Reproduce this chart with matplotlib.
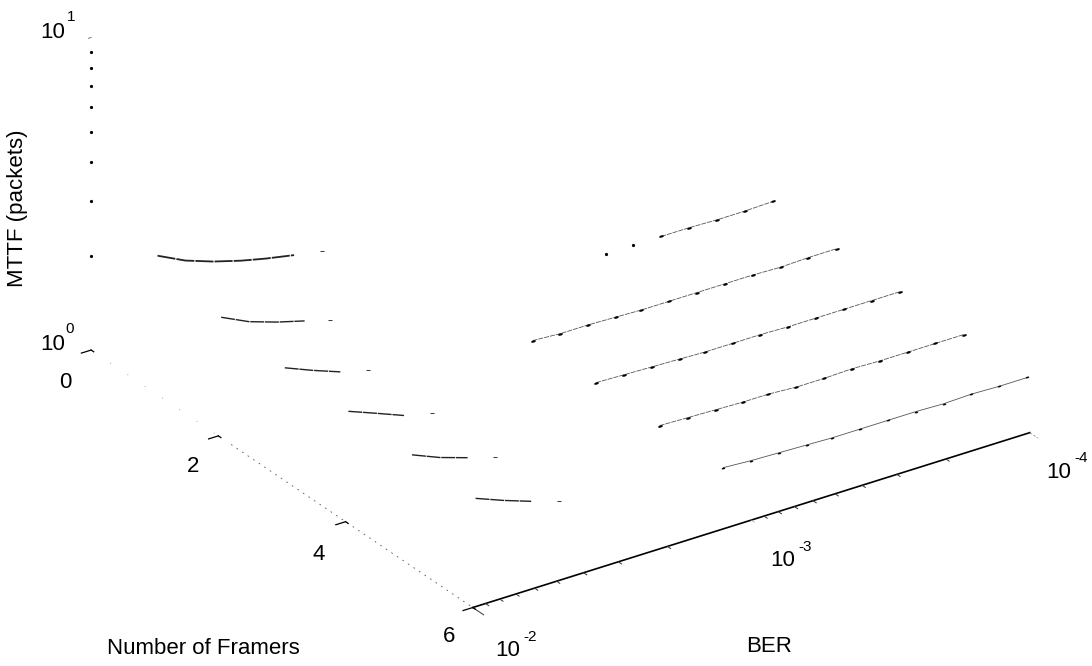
import numpy as np
import matplotlib
matplotlib.use("Agg")
import matplotlib.pyplot as plt
from matplotlib.markers import MarkerStyle
from matplotlib.transforms import Affine2D

plt.rcParams['font.family'] = ['Liberation Sans', 'DejaVu Sans']

W, H = 1092, 666

# BER sweep used for every curve
BER = [9.77e-3, 7.76e-3, 6.17e-3, 4.90e-3, 3.98e-3, 3.16e-3, 2.51e-3,
       2.00e-3, 1.58e-3, 1.26e-3, 1.00e-3, 7.94e-4, 6.31e-4, 5.13e-4,
       4.07e-4, 3.24e-4, 2.57e-4, 2.04e-4, 1.62e-4, 1.29e-4, 1.02e-4]

# what survives of each curve at the high BER end (starts at BER[0])
LOW_1 = [2.73, 2.47, 2.30, 2.17, 2.08, 2.00, 1.93]
LOW_2 = [2.38, 2.16, 2.02, 1.91, 1.82]
LOW_3 = [2.25, 2.07, 1.92, 1.82]
LOW_4 = [2.24, 2.07, 1.91, 1.82]
LOW_5 = [2.23, 2.05, 1.92, 1.81]
LOW_6 = [2.22, 2.05, 1.91, 1.80]

# and at the low BER end (these run up to BER[20])
HIGH_2 = [1.56, 1.56, 1.56, 1.56, 1.55, 1.55, 1.56]
HIGH_3 = [1.55, 1.53, 1.53, 1.52, 1.51, 1.51, 1.51, 1.51, 1.51, 1.50, 1.51, 1.51]
HIGH_4 = [1.56, 1.55, 1.54, 1.53, 1.52, 1.52, 1.52, 1.51, 1.51, 1.51, 1.51, 1.51]
HIGH_5 = [1.56, 1.55, 1.54, 1.53, 1.53, 1.51, 1.51, 1.52, 1.51, 1.51, 1.51, 1.51]
HIGH_6 = [1.57, 1.55, 1.54, 1.53, 1.52, 1.52, 1.52, 1.52, 1.51, 1.52, 1.51, 1.51]

LOW_CURVES = [LOW_1, LOW_2, LOW_3, LOW_4, LOW_5, LOW_6]
HIGH_CURVES = [HIGH_2, HIGH_3, HIGH_4, HIGH_5, HIGH_6]

MTTF_MINOR = [2, 3, 4, 5, 6, 7, 8, 9]
FRAMER_TICKS = [0, 2, 4, 6]
BER_MINOR = [9e-3, 8e-3, 7e-3, 6e-3, 5e-3, 4e-3, 3e-3, 2e-3,
             9e-4, 8e-4, 7e-4, 6e-4, 5e-4, 4e-4, 3e-4, 2e-4]


def blob(angle):
    return MarkerStyle('o', transform=Affine2D().scale(2.2, 1).rotate_deg(angle))


def plot_curves(ax):
    log_ber = np.log10(BER)
    for k, vals in enumerate(LOW_CURVES, start=1):
        n = len(vals)
        z = np.log10(vals)
        # the first curve prints heavier than the rest
        width = 1.3 if k == 1 else 1.0
        ax.plot([k] * (n - 1), log_ber[:n - 1], z[:n - 1], color='#222222', lw=width,
                ls=(0, (10, 0.6)), solid_capstyle='round')
        ax.plot([k], [log_ber[n - 1]], [z[n - 1]], color='#333333', ls='none',
                marker='_', ms=3, mew=0.7)

    for k, vals in enumerate(HIGH_CURVES, start=2):
        n = len(vals)
        z = np.log10(vals)
        xs = log_ber[-n:]
        if k == 2:
            # only the two dots are left of the start of this one
            ax.plot([k, k], xs[:2], z[:2], color='black', ls='none', marker='o', ms=1.3)
            xs, z = xs[2:], z[2:]
        style = (0, (6, 1.2)) if k < 6 else '-'
        size = 1.6 if k < 6 else 1.2
        ax.plot([k] * len(xs), xs, z, color='#555555', lw=0.6, ls=style,
                marker=blob(17), ms=size, mfc='black', mec='black', mew=0)


def plot_axes(ax):
    # BER axis at the front, solid
    ax.plot([6, 6], [-2, -4], [0, 0], color='black', lw=1.2)
    for b in BER_MINOR:
        ax.plot([6, 6.05], [np.log10(b)] * 2, [0, 0], color='#333333', lw=0.7)
    ax.plot([6, 6.17], [-2, -2], [0, 0], color='#333333', lw=0.7)
    ax.plot([6, 6.05], [-3, -3], [0, 0], color='#aaaaaa', lw=0.5)
    ax.plot([6, 6.13], [-4, -4], [0, 0], color='#888888', lw=0.5, ls=(0, (4, 2)))

    # framers axis has mostly faded away
    ax.plot([0.3, 2.2], [-2, -2], [0, 0], color='#888888', lw=0.6, ls=(0, (1, 24)))
    ax.plot([2.2, 6], [-2, -2], [0, 0], color='#555555', lw=0.6, ls=(0, (2, 6)))
    for f in FRAMER_TICKS:
        ax.plot([f, f], [-2, -1.965], [0, 0], color='black', lw=0.9)
        ax.plot([f, f + 0.04], [-2, -2], [0, 0], color='black', lw=0.9)

    # only the tick dots of the MTTF axis are left
    ax.plot([0] * len(MTTF_MINOR), [-2] * len(MTTF_MINOR), np.log10(MTTF_MINOR),
            color='black', ls='none', marker='o', ms=1.3)
    ax.plot([0, 0], [-2, -1.99], [1, 1], color='#666666', lw=0.6)


def label(x, y, s, size=16, **kw):
    plt.figtext(x / W, 1 - y / H, s, fontsize=size, ha='center', va='center', **kw)


def plot_labels():
    label(53, 33, "10")
    label(71, 17, "1", size=11)
    label(53, 345, "10")
    label(70, 329, "0", size=11)
    label(18, 208, "MTTF (packets)", rotation=90)
    label(65, 383, "0")
    label(193, 467, "2")
    label(319, 554, "4")
    label(449, 637, "6")
    label(203, 648, "Number of Framers")
    label(769, 646, "BER")
    label(508, 651, "10")
    label(530, 637, "-2", size=11)
    label(783, 560, "10")
    label(805, 547, "-3", size=11)
    label(1059, 473, "10")
    label(1081, 458, "-4", size=11)


def main():
    fig = plt.figure(figsize=(W / 100, H / 100), dpi=100)
    # square axes placed so the box lands where the reference has it
    size = 988.7
    ax = fig.add_axes([(547.1 - size / 2) / W, (417.6 - size / 2) / H, size / W, size / H],
                      projection='3d', proj_type='ortho')
    ax.view_init(elev=27.4, azim=-34.3)
    ax.set_box_aspect((677, 674, 352))
    ax.set_xlim(0, 6, view_margin=0)
    ax.set_ylim(-2, -4, view_margin=0)
    ax.set_zlim(0, 1, view_margin=0)
    ax.set_axis_off()

    plot_curves(ax)
    plot_axes(ax)
    plot_labels()

    plt.savefig("out.png", dpi=100)


if __name__ == "__main__":
    main()
